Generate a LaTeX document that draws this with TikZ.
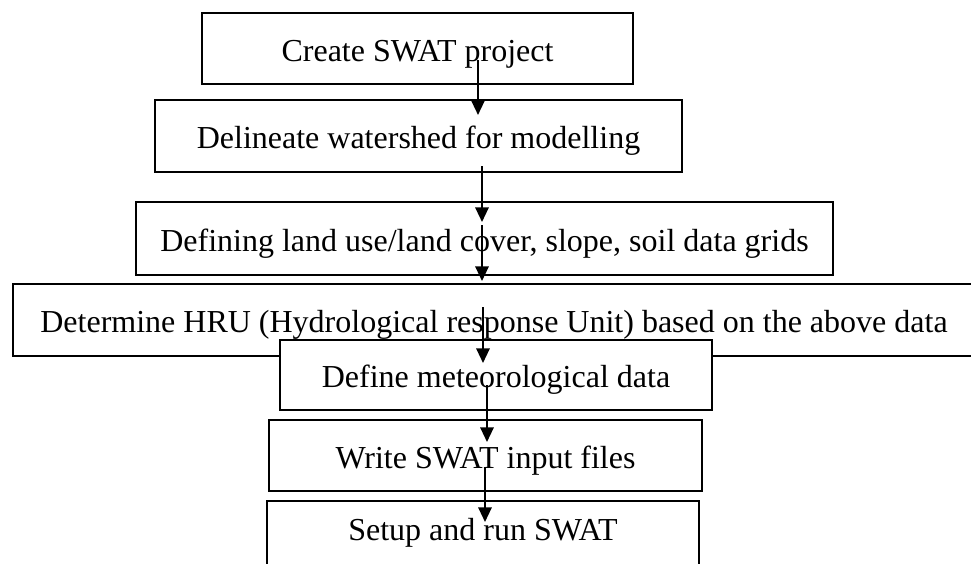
\documentclass[tikz,border=0pt]{standalone}
\usepackage{fontspec}
\setmainfont{Liberation Serif}
\usetikzlibrary{arrows.meta}
\begin{document}
\begin{tikzpicture}[x=0.75pt,y=-0.75pt,
  box/.style={draw, line width=1.7pt, fill=white, inner sep=0pt,
    font=\fontsize{24}{28}\selectfont, text height=18.9pt, text depth=0pt},
  arr/.style={line width=1.6pt, -{Triangle[length=11pt,width=10pt]}}]
\useasboundingbox (0,0) rectangle (971,564);
\node[box, minimum width=323.25pt, minimum height=53.25pt] (n1) at (417.5,48.5) {Create SWAT project};
\node[box, minimum width=395.25pt, minimum height=54pt] (n2) at (418.5,136) {Delineate watershed for modelling};
\node[box, minimum width=522.75pt, minimum height=54.75pt] (n3) at (484.5,238.5) {Defining land use/land cover, slope, soil data grids};
\node[box, minimum width=721.5pt, minimum height=54pt] (n4) at (494,320) {Determine HRU (Hydrological response Unit) based on the above data};
\node[box, minimum width=324pt, minimum height=52.5pt] (n5) at (496,375) {Define meteorological data};
\node[box, minimum width=324.75pt, minimum height=53.25pt] (n6) at (485.5,455.5) {Write SWAT input files};
\node[box, minimum width=324pt, minimum height=53.25pt, text height=15.9pt, text depth=9.9pt] (n7) at (483,536.5) {Setup and run SWAT};
\coordinate (a1s) at (478,60);  \coordinate (a1e) at (478,115);
\coordinate (a2s) at (482,166); \coordinate (a2e) at (482,222);
\coordinate (a3s) at (482,225); \coordinate (a3e) at (482,281);
\coordinate (a4s) at (483,307); \coordinate (a4e) at (483,363);
\coordinate (a5s) at (487,385); \coordinate (a5e) at (487,442);
\coordinate (a6s) at (485,467); \coordinate (a6e) at (485,522);
\draw[arr] (a1s) -- (a1e);
\draw[arr] (a2s) -- (a2e);
\draw[arr] (a3s) -- (a3e);
\draw[arr] (a4s) -- (a4e);
\draw[arr] (a5s) -- (a5e);
\draw[arr] (a6s) -- (a6e);
\end{tikzpicture}
\end{document}
